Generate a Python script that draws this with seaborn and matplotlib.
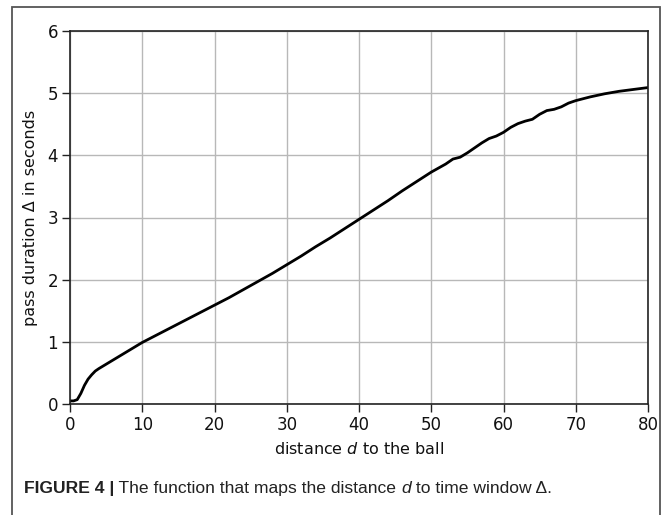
import matplotlib
matplotlib.use("Agg")
import matplotlib.pyplot as plt
import seaborn as sns
import pandas as pd
from matplotlib.patches import Rectangle

# Data
distance = [0, 0.5, 1, 1.5, 2, 2.5, 3, 3.5, 4, 5, 6, 7, 8, 9, 10, 11, 12, 13, 14, 15,
            16, 17, 18, 19, 20, 22, 24, 26, 28, 30, 32, 34, 36, 38, 40, 42, 44, 46, 48,
            50, 52, 53, 54, 55, 56, 57, 58, 59, 60, 61, 62, 63, 64, 65, 66, 67, 68, 69,
            70, 72, 74, 76, 78, 80]
duration = [0.05, 0.05, 0.07, 0.17, 0.30, 0.40, 0.47, 0.53, 0.57, 0.64, 0.71, 0.78, 0.85,
            0.92, 0.99, 1.05, 1.11, 1.17, 1.23, 1.29, 1.35, 1.41, 1.47, 1.53, 1.59, 1.71,
            1.84, 1.97, 2.10, 2.24, 2.38, 2.53, 2.67, 2.82, 2.97, 3.12, 3.27, 3.43, 3.58,
            3.73, 3.86, 3.94, 3.97, 4.04, 4.12, 4.20, 4.27, 4.31, 4.37, 4.45, 4.51, 4.55,
            4.58, 4.66, 4.72, 4.74, 4.78, 4.84, 4.88, 4.94, 4.99, 5.03, 5.06, 5.09]
x_ticks = [0, 10, 20, 30, 40, 50, 60, 70, 80]
y_ticks = [0, 1, 2, 3, 4, 5, 6]

df = pd.DataFrame({"distance": distance, "duration": duration})

sns.set_style("ticks")
plt.rcParams["font.family"] = ["DejaVu Sans"]

fig = plt.figure(figsize=(6.7, 5.15), dpi=100)
ax = fig.add_axes([70 / 670, 1 - 404 / 515, (648 - 70) / 670, (404 - 31) / 515])

sns.lineplot(data=df, x="distance", y="duration", ax=ax, color="black", linewidth=2.0)

ax.set_xlim(0, 80)
ax.set_ylim(0, 6)
ax.set_xticks(x_ticks)
ax.set_yticks(y_ticks)
ax.grid(True, color="#b8b8b8", linewidth=1.0)
ax.set_axisbelow(True)
for s in ax.spines.values():
    s.set_color("#222222")
    s.set_linewidth(1.2)
ax.tick_params(axis="both", direction="out", length=5.5, width=1.0, color="#222222",
               labelsize=12, labelcolor="#111111", pad=3)
ax.set_xlabel("distance $d$ to the ball", fontsize=11.5, color="#111111", labelpad=5)
ax.set_ylabel("pass duration Δ in seconds", fontsize=11.5, color="#111111", labelpad=7)

# outer frame
fig.patches.append(Rectangle((12 / 670, -0.05), (660 - 12) / 670, 1.05 - 7 / 515,
                             transform=fig.transFigure, fill=False,
                             edgecolor="#555555", linewidth=1.3))

# caption
fig.canvas.draw()
renderer = fig.canvas.get_renderer()
pieces = [("FIGURE 4 |", "bold", "normal"),
          (" The function that maps the distance ", "normal", "normal"),
          ("d", "normal", "italic"),
          (" to time window Δ.", "normal", "normal")]
xpos = 24 / 670
ypos = 1 - 493 / 515
for txt, w, st in pieces:
    t = fig.text(xpos, ypos, txt, fontsize=12.6, fontweight=w, fontstyle=st,
                 family=["Liberation Sans", "DejaVu Sans"], color="#222222",
                 va="baseline", ha="left")
    bb = t.get_window_extent(renderer=renderer)
    xpos += bb.width / fig.bbox.width

fig.savefig("out.png", dpi=100)
